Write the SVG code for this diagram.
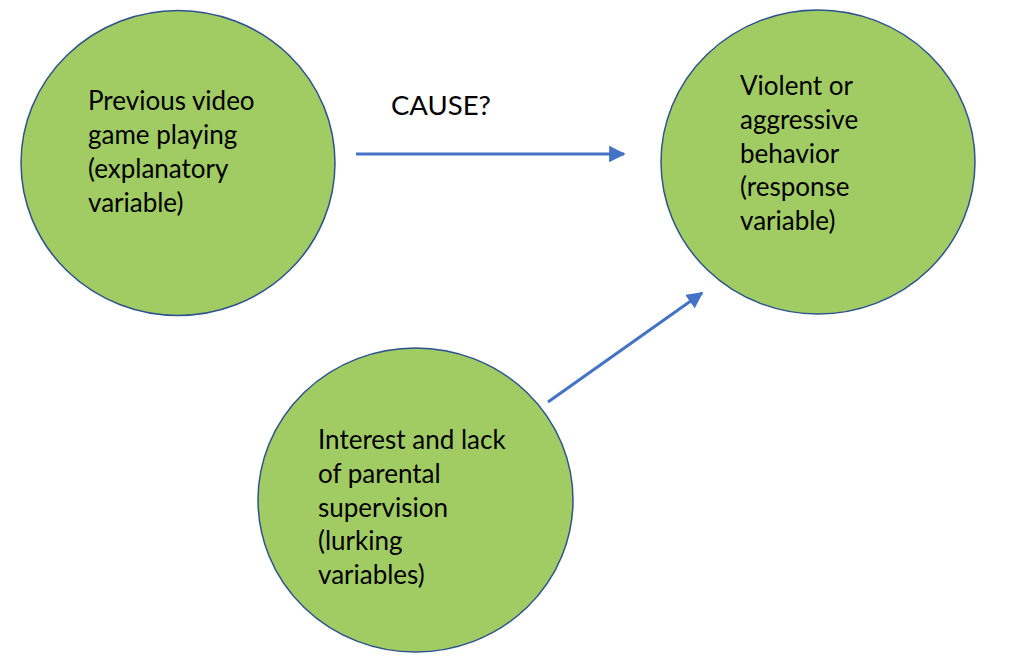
<svg xmlns="http://www.w3.org/2000/svg" width="1012" height="670" viewBox="0 0 1012 670">
<style>
.node{fill:#A0CC63;stroke:#2F528F;stroke-width:1.5}
.t{font-family:Lato,"Liberation Sans",sans-serif;font-size:26px;fill:#000}
.cause{font-size:27.5px}
.c{stroke:#4472C4;stroke-width:3;fill:none}
</style>
<defs>
<marker id="ah" viewBox="0 0 10 10" refX="9" refY="5" markerWidth="5.5" markerHeight="5.5" markerUnits="strokeWidth" orient="auto">
<path d="M0,0 L10,5 L0,10 z" fill="#4472C4"/>
</marker>
</defs>
<rect width="1012" height="670" fill="#fff"/>
<g id="connectors">
<line class="c" x1="356" y1="154" x2="624" y2="154" marker-end="url(#ah)"/>
<line class="c" x1="548" y1="402" x2="702" y2="293" marker-end="url(#ah)"/>
<text class="t cause" x="391" y="115">CAUSE?</text>
</g>
<g id="node-explanatory">
<ellipse class="node" cx="178" cy="163" rx="157" ry="152.5"/>
<text class="t"><tspan x="88" y="110">Previous video</tspan><tspan x="88" y="144">game playing</tspan><tspan x="88" y="178">(explanatory</tspan><tspan x="88" y="212">variable)</tspan></text>
</g>
<g id="node-response">
<ellipse class="node" cx="818" cy="162" rx="157" ry="152"/>
<text class="t"><tspan x="740" y="95">Violent or</tspan><tspan x="740" y="129">aggressive</tspan><tspan x="740" y="163">behavior</tspan><tspan x="740" y="196">(response</tspan><tspan x="740" y="230">variable)</tspan></text>
</g>
<g id="node-lurking">
<ellipse class="node" cx="415.5" cy="500" rx="157.5" ry="152"/>
<text class="t"><tspan x="318" y="449">Interest and lack</tspan><tspan x="318" y="483">of parental</tspan><tspan x="318" y="517">supervision</tspan><tspan x="318" y="550">(lurking</tspan><tspan x="318" y="584">variables)</tspan></text>
</g>
</svg>
